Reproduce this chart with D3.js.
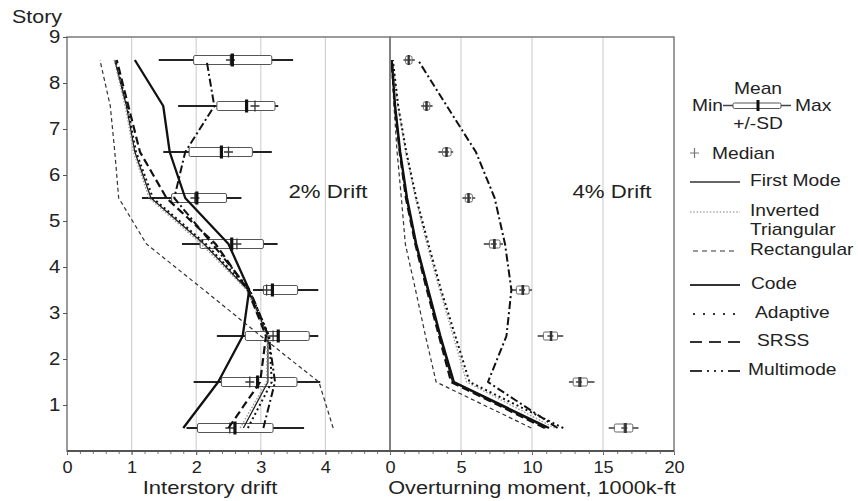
<!DOCTYPE html>
<html>
<head>
<meta charset="utf-8">
<script src="https://cdn.jsdelivr.net/npm/d3@7"></script>
<style>
  html, body { margin: 0; padding: 0; background: #fff; }
  svg { display: block; font-family: "Liberation Sans", Arial, Helvetica, sans-serif; }
  text { fill: #222; }
</style>
</head>
<body>
<svg id="chart" width="858" height="501"></svg>
<script>
// Story levels (mid-height of stories 1..9)
const storyPos = [0.5, 1.5, 2.5, 3.5, 4.5, 5.5, 6.5, 7.5, 8.5];
const yTicks = [1, 2, 3, 4, 5, 6, 7, 8, 9];
const driftTicks = [0, 1, 2, 3, 4];
const momentTicks = [0, 5, 10, 15, 20];

// Interstory drift (2% drift) — nonlinear response statistics, story 1..9
const driftMin    = [1.85, 1.96, 2.32, 2.88, 1.78, 1.16, 1.49, 1.72, 1.42];
const driftSdLo   = [2.02, 2.39, 2.76, 3.04, 2.06, 1.62, 1.89, 2.32, 1.96];
const driftMean   = [2.60, 2.95, 3.27, 3.18, 2.55, 2.01, 2.39, 2.78, 2.56];
const driftSdHi   = [3.19, 3.56, 3.75, 3.57, 3.04, 2.47, 2.87, 3.22, 3.17];
const driftMax    = [3.67, 3.92, 3.89, 3.89, 3.26, 2.70, 3.17, 3.27, 3.50];
const driftMedian = [2.52, 2.83, 3.19, 3.09, 2.63, 1.98, 2.50, 2.91, 2.53];

// Interstory drift — pushover estimates, story 1..9
const driftFirstMode = [2.73, 3.11, 3.11, 2.80, 2.12, 1.30, 1.05, 0.92, 0.74];
const driftInvTri    = [2.68, 3.09, 3.10, 2.78, 2.08, 1.27, 1.03, 0.90, 0.73];
const driftRect      = [4.12, 3.90, 3.00, 2.12, 1.23, 0.80, 0.74, 0.67, 0.51];
const driftCode      = [1.80, 2.34, 2.72, 2.82, 2.50, 1.83, 1.59, 1.49, 1.05];
const driftAdaptive  = [2.80, 3.17, 3.13, 2.82, 2.15, 1.33, 1.07, 0.93, 0.75];
const driftSRSS      = [2.50, 2.99, 3.08, 2.80, 2.30, 1.54, 1.13, 0.95, 0.77];
const driftMultimode = [3.04, 3.22, 3.12, 2.83, 2.25, 1.66, 1.83, 2.28, 2.16];

// Overturning moment (4% drift), 1000 k-ft — nonlinear response statistics
const momMin    = [15.4, 12.6, 10.4, 8.5, 6.6, 5.1, 3.4, 2.2, 0.95];
const momSdLo   = [15.8, 12.9, 10.8, 8.9, 7.0, 5.3, 3.7, 2.35, 1.1];
const momMean   = [16.6, 13.4, 11.35, 9.37, 7.37, 5.54, 3.99, 2.58, 1.32];
const momSdHi   = [17.1, 13.9, 11.8, 9.8, 7.75, 5.8, 4.3, 2.8, 1.55];
const momMax    = [17.5, 14.4, 12.2, 10.0, 7.95, 6.0, 4.45, 3.0, 1.75];
const momMedian = [16.5, 13.3, 11.3, 9.3, 7.3, 5.5, 3.95, 2.55, 1.3];

// Overturning moment — pushover estimates
const momFirstMode = [11.0, 4.4, 3.5, 2.65, 1.8, 1.15, 0.70, 0.35, 0.12];
const momInvTri    = [11.6, 5.4, 4.45, 3.5, 2.6, 1.8, 1.10, 0.55, 0.18];
const momRect      = [9.95, 3.25, 2.5, 1.8, 1.08, 0.8, 0.50, 0.28, 0.10];
const momCode      = [11.2, 4.5, 3.55, 2.7, 1.85, 1.2, 0.72, 0.36, 0.12];
const momAdaptive  = [12.2, 5.6, 4.6, 3.6, 2.7, 1.85, 1.15, 0.58, 0.20];
const momSRSS      = [10.9, 4.3, 3.45, 2.6, 1.78, 1.12, 0.68, 0.34, 0.12];
const momMultimode = [11.8, 6.9, 8.2, 8.55, 8.1, 7.37, 6.05, 4.0, 1.97];

const methods = ["First Mode", "Inverted Triangular", "Rectangular", "Code", "Adaptive", "SRSS", "Multimode"];
const lineStyles = {
  "First Mode":          { color: "#222", width: 1.3, dash: null,        legendDash: null },
  "Inverted Triangular": { color: "#9a9a9a", width: 1.4, dash: "1.5,1.8", legendDash: "1.5,1.8" },
  "Rectangular":         { color: "#333", width: 1.2, dash: "4,3",      legendDash: "5,4" },
  "Code":                { color: "#111", width: 2.3, dash: null,        legendDash: null },
  "Adaptive":            { color: "#111", width: 2.0, dash: "2,3",       legendDash: "2,8" },
  "SRSS":                { color: "#111", width: 2.2, dash: "8,4",       legendDash: "12,7" },
  "Multimode":           { color: "#111", width: 2.0, dash: "8,3,2,3",   legendDash: "12,5,2,5,2,5,2,5" }
};
const driftSeries = {
  "First Mode": driftFirstMode, "Inverted Triangular": driftInvTri, "Rectangular": driftRect,
  "Code": driftCode, "Adaptive": driftAdaptive, "SRSS": driftSRSS, "Multimode": driftMultimode
};
const momSeries = {
  "First Mode": momFirstMode, "Inverted Triangular": momInvTri, "Rectangular": momRect,
  "Code": momCode, "Adaptive": momAdaptive, "SRSS": momSRSS, "Multimode": momMultimode
};

const svg = d3.select("#chart");
const plotTop = 37, plotBottom = 451;
const xL = d3.scaleLinear().domain([0, 5]).range([67, 390]);
const xR = d3.scaleLinear().domain([0, 20]).range([390, 674]);
const y = d3.scaleLinear().domain([0, 9]).range([plotBottom, plotTop]);

function label(x, yy, s, size, anchor, sx) {
  return svg.append("text")
    .attr("transform", `translate(${x},${yy}) scale(${sx},1)`)
    .attr("text-anchor", anchor || "start")
    .style("font-size", size + "px")
    .text(s);
}

// vertical gridlines
function grid(x, vals) {
  svg.append("g").selectAll("line").data(vals).join("line")
    .attr("x1", d => x(d)).attr("x2", d => x(d))
    .attr("y1", plotTop).attr("y2", plotBottom)
    .attr("stroke", "#d2d2d2").attr("stroke-width", 1.2);
}
grid(xL, [1, 2, 3, 4]);
grid(xR, [5, 10, 15]);

// box plots: whisker min–max, box ±SD, thick mean bar, median cross
function boxes(x, mn, lo, mean, hi, mx, med, opt) {
  const g = svg.append("g");
  const idx = d3.range(storyPos.length);
  g.selectAll(".wh").data(idx).join("line")
    .attr("x1", i => x(mn[i])).attr("x2", i => x(mx[i]))
    .attr("y1", i => y(storyPos[i])).attr("y2", i => y(storyPos[i]))
    .attr("stroke", opt.whisker).attr("stroke-width", opt.ww);
  g.selectAll(".bx").data(idx).join("rect")
    .attr("x", i => x(lo[i])).attr("width", i => x(hi[i]) - x(lo[i]))
    .attr("y", i => y(storyPos[i]) - opt.bh / 2).attr("height", opt.bh)
    .attr("rx", 1.5)
    .attr("fill", "#fff").attr("stroke", opt.boxStroke).attr("stroke-width", 1);
  g.selectAll(".md").data(idx).join("path")
    .attr("d", i => {
      const cx = x(med[i]), cy = y(storyPos[i]);
      return `M${cx - opt.mh / 2},${cy}H${cx + opt.mh / 2}M${cx},${cy - opt.mv / 2}V${cy + opt.mv / 2}`;
    })
    .attr("stroke", opt.medColor).attr("stroke-width", 1.3).attr("fill", "none");
  g.selectAll(".mn").data(idx).join("rect")
    .attr("x", i => x(mean[i]) - opt.mw / 2).attr("width", opt.mw)
    .attr("y", i => y(storyPos[i]) - opt.mbh / 2).attr("height", opt.mbh)
    .attr("fill", opt.meanColor);
}
boxes(xL, driftMin, driftSdLo, driftMean, driftSdHi, driftMax, driftMedian,
  { whisker: "#222", ww: 2, bh: 9, boxStroke: "#555", medColor: "#333", mh: 9, mv: 11, meanColor: "#111", mw: 3.2, mbh: 13 });
boxes(xR, momMin, momSdLo, momMean, momSdHi, momMax, momMedian,
  { whisker: "#444", ww: 1.6, bh: 8, boxStroke: "#666", medColor: "#444", mh: 6, mv: 10, meanColor: "#333", mw: 2.2, mbh: 10 });

// pushover profiles
function profiles(x, series) {
  const line = d3.line().x(d => x(d[0])).y(d => y(d[1]));
  const g = svg.append("g").attr("fill", "none");
  methods.forEach(m => {
    const st = lineStyles[m];
    g.append("path")
      .attr("d", line(series[m].map((v, i) => [v, storyPos[i]])))
      .attr("stroke", st.color).attr("stroke-width", st.width)
      .attr("stroke-dasharray", st.dash)
      .attr("stroke-linejoin", "round");
  });
}
profiles(xL, driftSeries);
profiles(xR, momSeries);

// frames
svg.append("rect").attr("x", 67).attr("y", plotTop).attr("width", 390 - 67).attr("height", plotBottom - plotTop)
  .attr("fill", "none").attr("stroke", "#7a7a7a").attr("stroke-width", 1.5);
svg.append("rect").attr("x", 390).attr("y", plotTop).attr("width", 674 - 390).attr("height", plotBottom - plotTop)
  .attr("fill", "none").attr("stroke", "#7a7a7a").attr("stroke-width", 1.5);

// axes
function styleAxis(g, sx) {
  g.select(".domain").remove();
  g.selectAll(".tick line").attr("stroke", "#555");
  g.selectAll(".tick text").style("font-size", "16.5px").style("fill", "#222")
    .attr("transform", `scale(${sx},1)`);
}
svg.append("g").attr("transform", `translate(0,${plotBottom})`)
  .call(d3.axisBottom(xL).tickValues(driftTicks).tickFormat(d3.format("d")).tickSize(4).tickPadding(6))
  .call(g => styleAxis(g, 1.1));
svg.append("g").attr("transform", `translate(0,${plotBottom})`)
  .call(d3.axisBottom(xL).tickValues(d3.range(0, 5.01, 0.2)).tickFormat("").tickSize(3))
  .call(g => { g.select(".domain").remove(); g.selectAll("line").attr("stroke", "#777"); });
svg.append("g").attr("transform", `translate(0,${plotBottom})`)
  .call(d3.axisBottom(xR).tickValues(momentTicks).tickFormat(d3.format("d")).tickSize(4).tickPadding(6))
  .call(g => styleAxis(g, 1.1));
svg.append("g").attr("transform", `translate(0,${plotBottom})`)
  .call(d3.axisBottom(xR).tickValues(d3.range(0, 20.01, 1)).tickFormat("").tickSize(3))
  .call(g => { g.select(".domain").remove(); g.selectAll("line").attr("stroke", "#777"); });
svg.append("line").attr("x1", 67).attr("x2", 674).attr("y1", plotBottom).attr("y2", plotBottom)
  .attr("stroke", "#555").attr("stroke-width", 1.8);
svg.append("g").attr("transform", "translate(67,0)")
  .call(d3.axisLeft(y).tickValues(yTicks).tickFormat(d3.format("d")).tickSize(4).tickPadding(2))
  .call(g => {
    g.select(".domain").remove();
    g.selectAll(".tick line").attr("stroke", "#555");
    g.selectAll(".tick text").style("font-size", "18.5px").style("fill", "#222")
      .attr("transform", "scale(1.1,1)");
  });

// titles
label(12, 23, "Story", 19, "start", 1.13);
label(210, 494, "Interstory drift", 19, "middle", 1.16);
label(532, 494, "Overturning moment, 1000k-ft", 19, "middle", 1.14);
label(328, 198, "2% Drift", 19, "middle", 1.17);
label(612, 198, "4% Drift", 19, "middle", 1.17);

// legend
const lg = svg.append("g");
const LF = 16, LS = 1.2;
label(758, 94, "Mean", LF, "middle", LS);
label(692, 111, "Min", LF, "start", LS);
label(795, 111, "Max", LF, "start", LS);
label(758, 129, "+/-SD", LF, "middle", LS);
lg.append("line").attr("x1", 723).attr("x2", 791).attr("y1", 105.5).attr("y2", 105.5).attr("stroke", "#444").attr("stroke-width", 1.4);
lg.append("rect").attr("x", 733).attr("y", 103).attr("width", 48).attr("height", 5.5).attr("rx", 1.5)
  .attr("fill", "#fff").attr("stroke", "#555").attr("stroke-width", 1);
lg.append("rect").attr("x", 756.5).attr("y", 100).attr("width", 3).attr("height", 11).attr("fill", "#111");
lg.append("path").attr("d", "M690,153H699M694.5,148V158").attr("stroke", "#777").attr("stroke-width", 1.2);
label(712, 159, "Median", LF, "start", LS);

const legendRows = [
  { m: "First Mode", y: 182, x0: 690, x1: 740, tx: 750, lines: ["First Mode"] },
  { m: "Inverted Triangular", y: 212, x0: 690, x1: 740, tx: 750, lines: ["Inverted", "Triangular"] },
  { m: "Rectangular", y: 251, x0: 693, x1: 736, tx: 750, lines: ["Rectangular"] },
  { m: "Code", y: 285, x0: 690, x1: 740, tx: 751, lines: ["Code"] },
  { m: "Adaptive", y: 314, x0: 693, x1: 738, tx: 755, lines: ["Adaptive"] },
  { m: "SRSS", y: 342, x0: 690, x1: 740, tx: 757, lines: ["SRSS"] },
  { m: "Multimode", y: 371, x0: 690, x1: 740, tx: 748, lines: ["Multimode"] }
];
legendRows.forEach(r => {
  const st = lineStyles[r.m];
  lg.append("line").attr("x1", r.x0).attr("x2", r.x1).attr("y1", r.y).attr("y2", r.y)
    .attr("stroke", st.color === "#9a9a9a" ? "#aaa" : "#333")
    .attr("stroke-width", Math.min(st.width, 1.8))
    .attr("stroke-dasharray", st.legendDash);
  r.lines.forEach((t, k) => label(r.tx, r.y + 4 + k * 19, t, LF, "start", LS));
});
</script>
</body>
</html>
